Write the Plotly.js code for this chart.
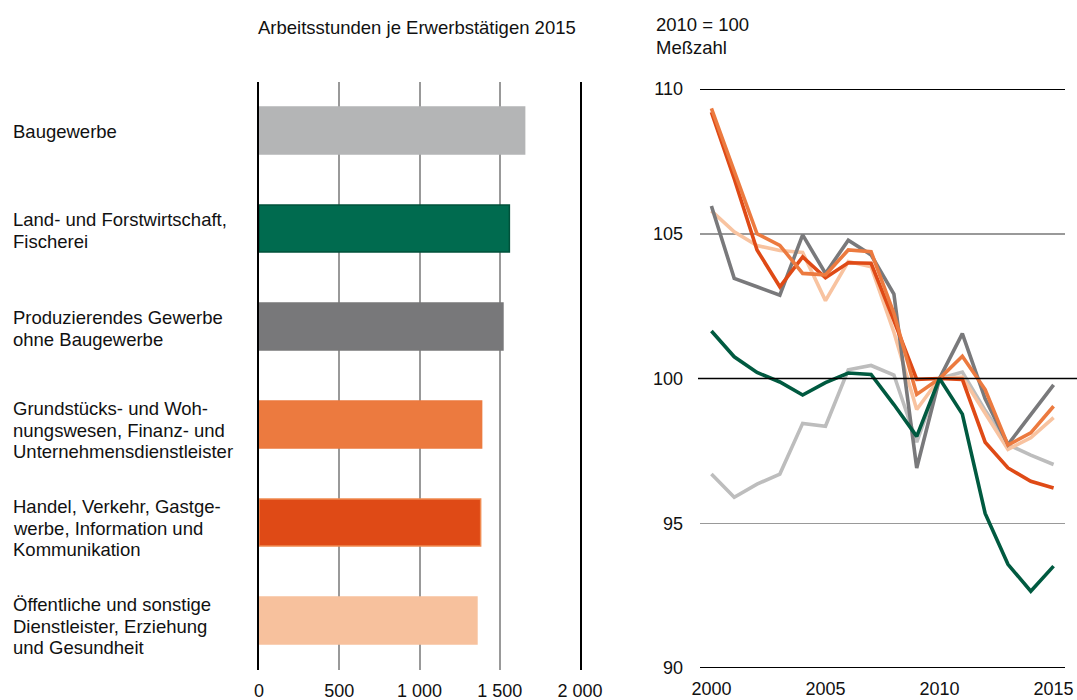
<!DOCTYPE html>
<html>
<head>
<meta charset="utf-8">
<script src="https://cdn.plot.ly/plotly-3.0.1.min.js"></script>
<style>html,body{margin:0;padding:0;background:#fff;}#chart{width:1077px;height:700px;}</style>
</head>
<body>
<div id="chart"></div>
<script>
// ---- Data ----
const categories = [
  "Baugewerbe",
  "Land- und Forstwirtschaft,<br>Fischerei",
  "Produzierendes Gewerbe<br>ohne Baugewerbe",
  "Grundstücks- und Woh-<br>nungswesen, Finanz- und<br>Unternehmensdienstleister",
  "Handel, Verkehr, Gastge-<br>werbe, Information und<br>Kommunikation",
  "Öffentliche und sonstige<br>Dienstleister, Erziehung<br>und Gesundheit"
];
const hours2015 = [1655, 1560, 1520, 1387, 1381, 1358];
const barTickVals = [0, 500, 1000, 1500, 2000];
const barTickText = ["0", "500", "1 000", "1 500", "2 000"];

const years = [2000,2001,2002,2003,2004,2005,2006,2007,2008,2009,2010,2011,2012,2013,2014,2015];
const idxBau    = [96.7, 95.9, 96.35, 96.7, 98.45, 98.35, 100.3, 100.45, 100.12, 97.8, 100, 100.22, 98.9, 97.72, 97.35, 97.03];
const idxLand   = [101.64, 100.75, 100.21, 99.88, 99.43, 99.86, 100.19, 100.14, 99.1, 98.0, 100, 98.77, 95.34, 93.58, 92.65, 93.52];
const idxProd   = [105.96, 103.46, 103.17, 102.88, 104.96, 103.63, 104.78, 104.27, 102.92, 96.91, 100, 101.55, 99.3, 97.72, 98.75, 99.78];
const idxGrund  = [109.33, 107.2, 105.0, 104.6, 103.63, 103.58, 104.44, 104.38, 102.25, 99.45, 100, 100.77, 99.62, 97.7, 98.12, 99.04];
const idxHandel = [109.2, 106.9, 104.44, 103.17, 104.2, 103.48, 104.0, 103.98, 102.0, 99.97, 100, 99.97, 97.8, 96.91, 96.45, 96.22];
const idxOeff   = [105.79, 105.07, 104.59, 104.42, 104.35, 102.69, 104.04, 103.86, 101.6, 98.93, 100, 100.05, 98.8, 97.55, 97.95, 98.65];
const lineTickVals = [90, 95, 100, 105, 110];
const yearTicks = [2000, 2005, 2010, 2015];

// ---- Styles ----
const barColors = ["#b4b5b6", "#006b4f", "#78787a", "#ec7a3f", "#df4a16", "#f7c19d"];
const barLineColors = ["#b4b5b6", "#00513b", "#78787a", "#ec7a3f", "#f08a50", "#f7c19d"];
const W = 1077, H = 700;
const px = v => v / W;
const py = v => (H - v) / H;
const FONT = "Liberation Sans, Arial, sans-serif";
const TXT = "#111";
const FS = 18.5;

const traces = [];
traces.push({
  type: "bar", orientation: "h",
  x: hours2015, y: categories,
  marker: {color: barColors, line: {color: barLineColors, width: 1.5}},
  xaxis: "x", yaxis: "y", hoverinfo: "x", showlegend: false
});

function lineTrace(vals, color) {
  return {type: "scatter", mode: "lines", x: years, y: vals,
    line: {color: color, width: 3.6}, xaxis: "x2", yaxis: "y2", showlegend: false};
}
traces.push(lineTrace(idxBau, "#bdbdbd"));
traces.push(lineTrace(idxOeff, "#f8c3a0"));
traces.push(lineTrace(idxProd, "#79797b"));
traces.push(lineTrace(idxHandel, "#df4a16"));
traces.push(lineTrace(idxGrund, "#ec7a3f"));
traces.push(lineTrace(idxLand, "#005a40"));

// category labels: one annotation per text line for tight line spacing
const annotations = [];
const LINE_H = 21.3;
const extraShift = {1: 0.5, 2: 2, 3: 5.5};
categories.forEach(c => {
  const parts = c.split("<br>");
  const n = parts.length;
  parts.forEach((t, i) => {
    annotations.push({
      xref: "paper", yref: "y", x: px(11), y: c, xanchor: "left", yanchor: "middle",
      yshift: -((i - (n - 1) / 2) * LINE_H + extraShift[n]),
      align: "left", text: t, showarrow: false, font: {family: FONT, size: FS, color: TXT}
    });
  });
});
annotations.push({xref: "paper", yref: "paper", x: px(416.5), y: py(27), xanchor: "center", yanchor: "middle",
  text: "Arbeitsstunden je Erwerbstätigen 2015", showarrow: false, font: {family: FONT, size: FS, color: TXT}});
annotations.push({xref: "paper", yref: "paper", x: px(654), y: py(25), xanchor: "left", yanchor: "middle",
  text: "2010 = 100", showarrow: false, font: {family: FONT, size: FS, color: TXT}});
annotations.push({xref: "paper", yref: "paper", x: px(654), y: py(47), xanchor: "left", yanchor: "middle",
  text: "Meßzahl", showarrow: false, font: {family: FONT, size: FS, color: TXT}});

const shapes = [
  {type: "line", xref: "paper", yref: "y2", x0: px(700), x1: px(1065), y0: 110, y1: 110, line: {color: "#000", width: 2}, layer: "above"},
  {type: "line", xref: "paper", yref: "y2", x0: px(700), x1: px(1065), y0: 90, y1: 90, line: {color: "#000", width: 2}, layer: "above"},
  {type: "line", xref: "paper", yref: "y2", x0: px(698), x1: 1, y0: 100, y1: 100, line: {color: "#000", width: 1.5}, layer: "above"}
];

const layout = {
  width: W, height: H,
  margin: {l: 0, r: 0, t: 0, b: 0},
  paper_bgcolor: "#fff", plot_bgcolor: "rgba(0,0,0,0)",
  font: {family: FONT, size: FS, color: TXT},
  bargap: 0.52,
  xaxis: {
    domain: [px(259), px(580)], range: [0, 2000],
    tickvals: barTickVals, ticktext: barTickText,
    showgrid: true, gridcolor: "#999", gridwidth: 2,
    zeroline: false, showline: false, ticks: "", ticklabelstandoff: 8,
    tickfont: {family: FONT, size: 18, color: TXT}, fixedrange: true
  },
  yaxis: {
    domain: [py(669.5), py(81.5)], autorange: "reversed", type: "category",
    showticklabels: false, showgrid: false, zeroline: false,
    showline: true, mirror: true, linecolor: "#000", linewidth: 2, ticks: "", fixedrange: true
  },
  xaxis2: {
    domain: [px(700), px(1065)], range: [1999.5, 2015.5], anchor: "y2",
    tickvals: yearTicks, showgrid: false, zeroline: false, showline: false, ticks: "",
    ticklabelstandoff: 8, tickfont: {family: FONT, size: 18, color: TXT}, fixedrange: true
  },
  yaxis2: {
    domain: [py(668), py(89)], range: [90, 110], anchor: "x2",
    tickvals: lineTickVals, showgrid: true, gridcolor: "#999", gridwidth: 1.5,
    zeroline: false, showline: false, ticks: "", ticklabelstandoff: 16,
    tickfont: {family: FONT, size: 18, color: TXT}, fixedrange: true
  },
  annotations: annotations,
  shapes: shapes
};

Plotly.newPlot("chart", traces, layout, {displayModeBar: false, staticPlot: true});
</script>
</body>
</html>
